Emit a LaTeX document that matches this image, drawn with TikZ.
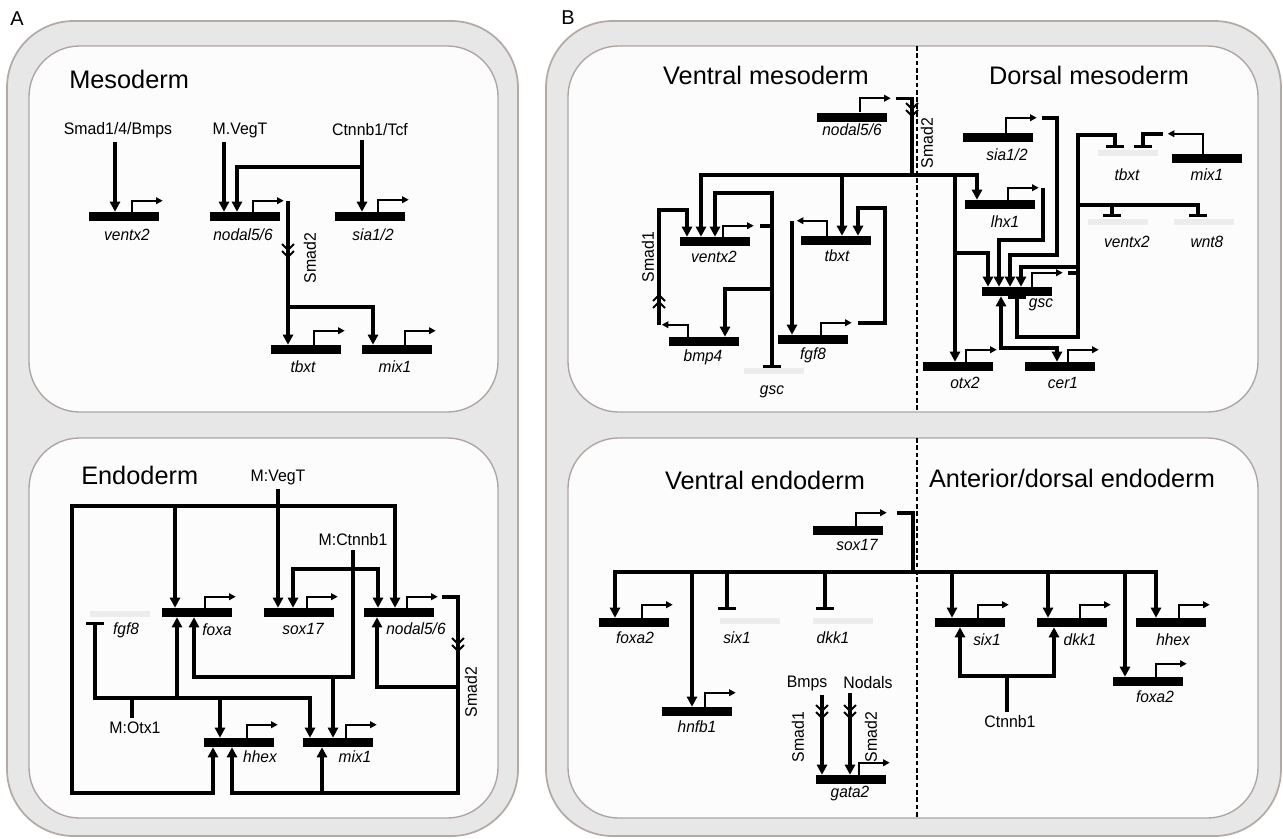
\documentclass[tikz,border=0pt]{standalone}
\usepackage{fontspec}
\setmainfont{Liberation Sans}
\newfontfamily\labfont[FakeStretch=0.95]{Liberation Sans}
\usetikzlibrary{arrows.meta,calc}

\definecolor{band}{HTML}{E7E7E7}
\definecolor{bandline}{HTML}{B3AAA6}
\definecolor{panelfill}{HTML}{FCFCFC}
\definecolor{panelline}{HTML}{ADA4A0}
\definecolor{faint}{HTML}{ECECEC}

% gene: name, centre x, centre y, promoter height
\newcommand\mkgene[4]{%
  \node[genebar] (#1) at (#2,#3) {};
  \draw[prom] ($(#1.north west)+(43,0)$) -- ++(0,-#4) -- ++(31,0);}
\newcommand\chevdown[2]{\draw[chevs] ({#1-6},{#2-6}) -- (#1,#2) -- ({#1+6},{#2-6})
  ({#1-6},{#2+1}) -- (#1,{#2+7}) -- ({#1+6},{#2+1});}
\newcommand\chevup[2]{\draw[chevs] ({#1-6},{#2+6}) -- (#1,#2) -- ({#1+6},{#2+6})
  ({#1-6},{#2+13}) -- (#1,{#2+7}) -- ({#1+6},{#2+13});}

\begin{document}
\begin{tikzpicture}[x=0.75pt,y=-0.75pt,
  genebar/.style={fill=black, inner sep=0pt, minimum width=52.5pt, minimum height=6.75pt},
  faintbar/.style={fill=faint, inner sep=0pt, minimum width=45pt, minimum height=4.5pt},
  conn/.style={line width=2.4pt},
  act/.style={conn,-{Triangle[length=7.5pt,width=7.5pt]}},
  bi/.style={conn,{Triangle[length=7.5pt,width=7.5pt]}-{Triangle[length=7.5pt,width=7.5pt]}},
  inh/.style={conn,-{Bar[width=13pt]}},
  inhact/.style={conn,{Bar[width=13pt]}-{Triangle[length=7.5pt,width=7.5pt]}},
  inhinh/.style={conn,{Bar[width=13pt]}-{Bar[width=13pt]}},
  prom/.style={line width=1.6pt,-{Triangle[length=5pt,width=5pt]}},
  chevs/.style={line width=1.5pt},
  glab/.style={font=\labfont\fontsize{12.2}{14}\selectfont\itshape, inner sep=1pt},
  tlab/.style={font=\labfont\fontsize{12.5}{14}\selectfont, inner sep=3pt},
  paneltitle/.style={font=\fontsize{19}{22}\selectfont, inner sep=0pt},
  outerpanel/.style={fill=band, draw=bandline, line width=1.3pt, rounded corners=50pt},
  innerpanel/.style={fill=panelfill, draw=panelline, line width=1pt, rounded corners=38pt},
  divider/.style={line width=1.3pt, dash pattern=on 3.5pt off 2pt}
]
\fill[white] (0,0) rectangle (1283,839);
\useasboundingbox (0,0) rectangle (1283,839);

% ---------- panels ----------
\draw[outerpanel] (7,21) rectangle (518,836);
\draw[outerpanel] (546,21) rectangle (1281,836);
\draw[innerpanel] (29,46) rectangle (498,412);
\draw[innerpanel] (29,438) rectangle (498,818);
\draw[innerpanel] (568,46) rectangle (1258,412);
\draw[innerpanel] (568,438) rectangle (1258,818);
\draw[divider] (917,46) -- (917,412);
\draw[divider] (917,438) -- (917,818);

\node[font=\fontsize{15}{18}\selectfont] (lblA) at (17,19) {A};
\node[font=\fontsize{15}{18}\selectfont] (lblB) at (568,18) {B};

\node[paneltitle, anchor=west] (tMes) at (69,79) {Mesoderm};
\node[paneltitle, anchor=west] (tEnd) at (81,475) {Endoderm};
\node[paneltitle] (tVM) at (766,75) {Ventral mesoderm};
\node[paneltitle] (tDM) at (1089,75) {Dorsal mesoderm};
\node[paneltitle] (tVE) at (765,480) {Ventral endoderm};
\node[paneltitle] (tAE) at (1072,478) {Anterior/dorsal endoderm};

% ---------- A: mesoderm ----------
\node[tlab] (smadA) at (118,130) {Smad1/4/Bmps};
\node[tlab] (vegtA) at (240,130) {M.VegT};
\node[tlab] (ctnA) at (370,130) {Ctnnb1/Tcf};
\mkgene{vxA}{124}{216.5}{11} \node[glab] (vxAl) at (127,235) {ventx2};
\mkgene{ndA}{245}{216.5}{11} \node[glab] (ndAl) at (243,235) {nodal5/6};
\mkgene{siA}{370}{216.5}{12} \node[glab] (siAl) at (373,235) {sia1/2};
\mkgene{tbA}{306}{349.5}{14} \node[glab] (tbAl) at (303,367) {tbxt};
\mkgene{mxA}{397}{349.5}{14} \node[glab] (mxAl) at (395,367) {mix1};
\draw[act] (smadA.south -| 115,0) -- (115,0 |- vxA.north);
\draw[act] (vegtA.south -| 224,0) -- (224,0 |- ndA.north);
\draw[act] (ctnA.south -| 362,0) -- (362,0 |- siA.north);
\draw[act] (362,167) -- (237,167) -- (237,0 |- ndA.north);
\draw[act] (288,201) -- (288,0 |- tbA.north);
\draw[act] (288,307) -- (373,307) -- (373,0 |- mxA.north);
\chevdown{288}{250}
\node[tlab, rotate=90] (smad2A) at (310,258) {Smad2};

% ---------- A: endoderm ----------
\node[tlab] (vegtB) at (278,477) {M:VegT};
\node[tlab] (ctnB) at (353,540) {M:Ctnnb1};
\node[tlab] (otxB) at (135,728) {M:Otx1};
\node[tlab, rotate=90] (smad2B) at (471,692) {Smad2};
\node[faintbar] (fgfEf) at (120,614) {};
\node[glab] (fgfEl) at (126,630) {fgf8};
\mkgene{fxE}{197}{612.5}{11} \node[glab] (fxEl) at (217,630) {foxa};
\mkgene{sxE}{299}{612.5}{11} \node[glab] (sxEl) at (303,629) {sox17};
\mkgene{ndE}{399}{612.5}{11} \node[glab] (ndEl) at (416,629) {nodal5/6};
\mkgene{hhE}{239}{742.5}{13} \node[glab] (hhEl) at (260,757) {hhex};
\mkgene{mxE}{338}{742.5}{13} \node[glab] (mxEl) at (355,757) {mix1};
\draw[act] (vegtB.south) -- (vegtB.south |- sxE.north);
\draw[bi] (213,0 |- hhE.south) -- (213,793) -- (72,793) -- (72,506) -- (395,506) -- (395,0 |- ndE.north);
\draw[act] (175,506) -- (175,0 |- fxE.north);
\draw[act] (ctnB.south) -- (353,677) -- (194,677) -- (194,0 |- fxE.south);
\draw[act] (333,677) -- (333,0 |- mxE.north);
\draw[bi] (293,0 |- sxE.north) -- (293,569) -- (378,569) -- (378,0 |- ndE.north);
\draw[conn] (otxB.north -| 132,0) -- (132,698);
\draw[inhact] (95,622) -- (95,698) -- (310,698) -- (310,0 |- mxE.north);
\draw[act] (177,698) -- (177,0 |- fxE.south);
\draw[act] (220,698) -- (220,0 |- hhE.north);
\draw[act] (442,597) -- (458,597) -- (458,793) -- (232,793) -- (232,0 |- hhE.south);
\draw[act] (322,793) -- (322,0 |- mxE.south);
\draw[act] (458,687) -- (377,687) -- (377,0 |- ndE.south);
\chevdown{458}{644}

% ---------- B: ventral mesoderm ----------
\mkgene{ndV}{852}{117}{14} \node[glab] (ndVl) at (852,130) {nodal5/6};
\mkgene{vxV}{715}{241.5}{11} \node[glab] (vxVl) at (714,257) {ventx2};
\node[genebar] (tbV) at (836,240.5) {};
\draw[prom] ($(tbV.north west)+(26,0)$) -- ++(0,-15) -- ++(-30,0);
\node[glab] (tbVl) at (837,256) {tbxt};
\node[genebar] (bmV) at (704,341.5) {};
\draw[prom] ($(bmV.north west)+(19,0)$) -- ++(0,-12) -- ++(-26,0);
\node[glab] (bmVl) at (703,357) {bmp4};
\mkgene{fgV}{813}{339.5}{12} \node[glab] (fgVl) at (813,355) {fgf8};
\node[faintbar] (gsVf) at (774,371) {};
\node[glab] (gsVl) at (772,392) {gsc};
\node[tlab, rotate=90] (smad1V) at (648,257) {Smad1};
\node[tlab, rotate=90] (smad2V) at (927,143) {Smad2};
\draw[act] (896,98.5) -- (912,98.5) -- (912,175) -- (701,175) -- (701,0 |- vxV.north);
\chevdown{912}{109}
\draw[act] (842,175) -- (842,0 |- tbV.north);
\draw[act] (659,325) -- (659,210) -- (687,210) -- (687,0 |- vxV.north);
\chevup{659}{295}
\draw[inh] (760,226) -- (772,226) -- (772,0 |- gsVf.north);
\draw[act] (772,226) -- (772,193) -- (715,193) -- (715,0 |- vxV.north);
\draw[act] (772,289) -- (725,289) -- (725,0 |- bmV.north);
\draw[act] (792,221) -- (792,0 |- fgV.north);
\draw[act] (858,323) -- (885,323) -- (885,208) -- (858,208) -- (858,0 |- tbV.north);

% ---------- B: dorsal mesoderm ----------
\mkgene{siD}{998}{137.5}{15} \node[glab] (siDl) at (1007,155) {sia1/2};
\mkgene{lhD}{1000}{204.5}{12} \node[glab] (lhDl) at (1005,222) {lhx1};
\node[genebar] (gsD) at (1017,291.5) {};
\draw[prom] ($(gsD.north west)+(50,0)$) -- ++(0,-14) -- ++(31,0);
\node[glab] (gsDl) at (1041,305) {gsc};
\mkgene{otD}{958}{366.5}{12} \node[glab] (otDl) at (965,383) {otx2};
\mkgene{ceD}{1060}{366.5}{12} \node[glab] (ceDl) at (1063,383) {cer1};
\node[genebar] (mxD) at (1207,158.5) {};
\draw[prom] ($(mxD.north west)+(31,0)$) -- ++(0,-20) -- ++(-35,0);
\node[glab] (mxDl) at (1207,175) {mix1};
\node[faintbar] (tbDf) at (1128,153) {};
\node[glab] (tbDl) at (1127,175) {tbxt};
\node[faintbar] (vxDf) at (1118,222) {};
\node[glab] (vxDl) at (1127,242) {ventx2};
\node[faintbar] (wnDf) at (1204,222) {};
\node[glab] (wnDl) at (1207,242) {wnt8};
\draw[act] (912,175) -- (977,175) -- (977,0 |- lhD.north);
\draw[act] (955,175) -- (955,0 |- otD.north);
\draw[act] (955,253) -- (988,253) -- (988,0 |- gsD.north);
\draw[act] (1043,188) -- (1043,240) -- (999,240) -- (999,0 |- gsD.north);
\draw[act] (1042,118) -- (1057,118) -- (1057,255) -- (1010,255) -- (1010,0 |- gsD.north);
\draw[conn] (1068,273) -- (1078,273);
\draw[inhinh] (1115,148) -- (1115,135) -- (1078,135) -- (1078,337) -- (1017,337) -- (1017,0 |- gsD.south);
\draw[act] (1078,267) -- (1021,267) -- (1021,0 |- gsD.north);
\draw[inh] (1078,205) -- (1198,205) -- (1198,217);
\draw[inh] (1112,205) -- (1112,217);
\draw[inh] (1163,134) -- (1143,134) -- (1143,148);
\draw[bi] (1001,0 |- gsD.south) -- (1001,348) -- (1057,348) -- (1057,0 |- ceD.north);

% ---------- B: ventral endoderm ----------
\mkgene{sxV}{848}{530.5}{13} \node[glab] (sxVl) at (857,545) {sox17};
\mkgene{fxV}{634}{622.5}{13} \node[glab] (fxVl) at (635,638) {foxa2};
\mkgene{hnV}{697}{711.5}{14} \node[glab] (hnVl) at (697,727) {hnfb1};
\mkgene{gaV}{851}{779.5}{12} \node[glab] (gaVl) at (850,794) {gata2};
\node[faintbar] (sixVf) at (750,621) {};
\node[glab] (sixVl) at (737,638) {six1};
\node[faintbar] (dkVf) at (843,621) {};
\node[glab] (dkVl) at (833,638) {dkk1};
\node[tlab] (bmpsV) at (807,683) {Bmps};
\node[tlab] (nodsV) at (868,683) {Nodals};
\node[tlab, rotate=90] (s1V) at (798,737) {Smad1};
\node[tlab, rotate=90] (s2V) at (871,737) {Smad2};
\draw[act] (897,513) -- (913,513) -- (913,572) -- (615,572) -- (615,0 |- fxV.north);
\draw[act] (692,572) -- (692,0 |- hnV.north);
\draw[inh] (727,572) -- (727,610);
\draw[inh] (825,572) -- (825,610);
\draw[act] (bmpsV.south -| 822,0) -- (822,0 |- gaV.north);
\draw[act] (nodsV.south -| 850,0) -- (850,0 |- gaV.north);
\chevdown{822}{711}
\chevdown{850}{711}

% ---------- B: anterior/dorsal endoderm ----------
\mkgene{sxC}{970}{622.5}{13} \node[glab] (sxCl) at (987,640) {six1};
\mkgene{dkC}{1072}{622.5}{13} \node[glab] (dkCl) at (1080,640) {dkk1};
\mkgene{hhC}{1171}{622.5}{13} \node[glab] (hhCl) at (1173,640) {hhex};
\mkgene{fxC}{1148}{681.5}{13} \node[glab] (fxCl) at (1155,697) {foxa2};
\node[tlab] (ctnC) at (1010,722) {Ctnnb1};
\draw[act] (913,572) -- (1156,572) -- (1156,0 |- hhC.north);
\draw[act] (952,572) -- (952,0 |- sxC.north);
\draw[act] (1048,572) -- (1048,0 |- dkC.north);
\draw[act] (1125,572) -- (1125,0 |- fxC.north);
\draw[conn] (ctnC.north -| 1007,0) -- (1007,676);
\draw[bi] (960,0 |- sxC.south) -- (960,676) -- (1054,676) -- (1054,0 |- dkC.south);
\end{tikzpicture}
\end{document}
